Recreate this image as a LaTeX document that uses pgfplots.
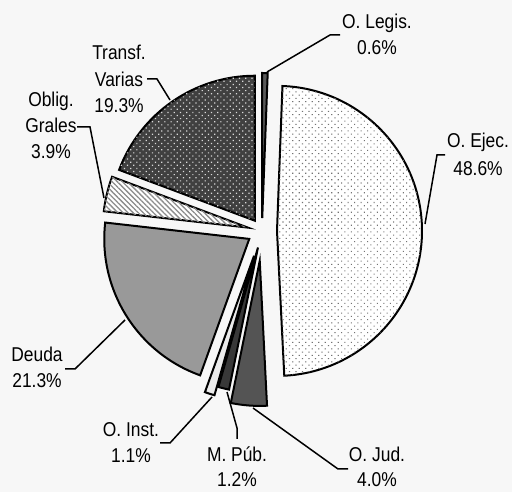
\documentclass[border=0pt]{standalone}
\usepackage{pgfplots}
\pgfplotsset{compat=1.18}
\usepackage{fontspec}
\setmainfont{Liberation Sans}[FakeStretch=0.87]
\usetikzlibrary{patterns.meta}
\definecolor{bg}{HTML}{F7F7F7}
\tikzset{
  sl/.style={draw=black, line width=2pt},
  legis/.style={sl, fill=black!65},
  ejec/.style={sl, fill=white, postaction={pattern={Dots[radius=0.75pt, distance=4.6pt, angle=45]}, pattern color=black!55}},
  jud/.style={sl, fill=black!67},
  pub/.style={sl, fill=black!78},
  inst/.style={sl, fill=black!8},
  deuda/.style={sl, fill=black!40},
  oblig/.style={sl, fill=white, postaction={pattern={Lines[angle=-45, distance=3.6pt, line width=1.3pt]}, pattern color=black!45}},
  transf/.style={sl, fill=black!75, postaction={pattern={Dots[radius=0.85pt, distance=4.4pt, angle=45]}, pattern color=black!15}},
  lead/.style={draw=black, line width=1.5pt},
  lab/.style={anchor=base, inner sep=0pt, font=\fontsize{20}{26}\selectfont},
}
% slice: percentage, explode distance, style
\def\cum{90}
\newcommand{\slice}[3]{%
  \pgfmathsetmacro{\sa}{\cum}%
  \pgfmathsetmacro{\ea}{\cum-3.6*#1}%
  \pgfmathsetmacro{\ma}{(\sa+\ea)/2}%
  \pgfmathsetmacro{\ax}{262+#2*cos(\ma)}%
  \pgfmathsetmacro{\ay}{261+#2*sin(\ma)}%
  \edef\tmp{\noexpand\path[#3] (axis cs:\ax,\ay) -- ++(\sa:145pt) arc[start angle=\sa, end angle=\ea, radius=145pt] -- cycle;}%
  \tmp
  \global\let\cum\ea
}
\begin{document}
\begin{tikzpicture}
\useasboundingbox (0,0) rectangle (512pt,492pt);
\begin{axis}[
  at={(0,0)}, anchor=south west,
  width=512pt, height=492pt, scale only axis,
  xmin=0, xmax=512, ymin=0, ymax=492,
  hide axis, clip=false,
]
\fill[bg] (axis cs:0,0) rectangle (axis cs:512,492);
% percentages clockwise from 12 o'clock
\slice{0.6}{13}{legis}
\slice{48.6}{15}{ejec}
\slice{4.0}{30}{jud}
\slice{1.2}{17}{pub}
\slice{1.1}{26}{inst}
\slice{21.3}{15}{deuda}
\slice{3.9}{14.5}{oblig}
\slice{19.3}{12.5}{transf}
% leader lines (image coords -> y = 492 - y)
\draw[lead] (axis cs:340,457) -- (axis cs:330,457) -- (axis cs:267,420);
\draw[lead] (axis cs:445,337) -- (axis cs:437,337) -- (axis cs:425,268);
\draw[lead] (axis cs:147,413) -- (axis cs:157,413) -- (axis cs:170,392);
\draw[lead] (axis cs:77,365) -- (axis cs:90,365) -- (axis cs:104,294);
\draw[lead] (axis cs:65,123) -- (axis cs:75,123) -- (axis cs:125,172);
\draw[lead] (axis cs:160,49) -- (axis cs:170,49) -- (axis cs:212,95);
\draw[lead] (axis cs:237,53) -- (axis cs:237,64) -- (axis cs:227,100);
\draw[lead] (axis cs:348,23) -- (axis cs:338,23) -- (axis cs:253,84);
% labels
\node[lab] at (axis cs:377,463) {O. Legis.};
\node[lab] at (axis cs:377,437) {0.6\%};
\node[lab] at (axis cs:478,344) {O. Ejec.};
\node[lab] at (axis cs:478,316) {48.6\%};
\node[lab] at (axis cs:119,432) {Transf.};
\node[lab] at (axis cs:119,405) {Varias};
\node[lab] at (axis cs:119,379) {19.3\%};
\node[lab] at (axis cs:51,385) {Oblig.};
\node[lab] at (axis cs:51,359) {Grales};
\node[lab] at (axis cs:51,333) {3.9\%};
\node[lab] at (axis cs:37,130) {Deuda};
\node[lab] at (axis cs:37,104) {21.3\%};
\node[lab] at (axis cs:131,55) {O. Inst.};
\node[lab] at (axis cs:131,29) {1.1\%};
\node[lab] at (axis cs:237,30) {M. Púb.};
\node[lab] at (axis cs:237,5) {1.2\%};
\node[lab] at (axis cs:377,30) {O. Jud.};
\node[lab] at (axis cs:377,5) {4.0\%};
\end{axis}
\end{tikzpicture}
\end{document}
